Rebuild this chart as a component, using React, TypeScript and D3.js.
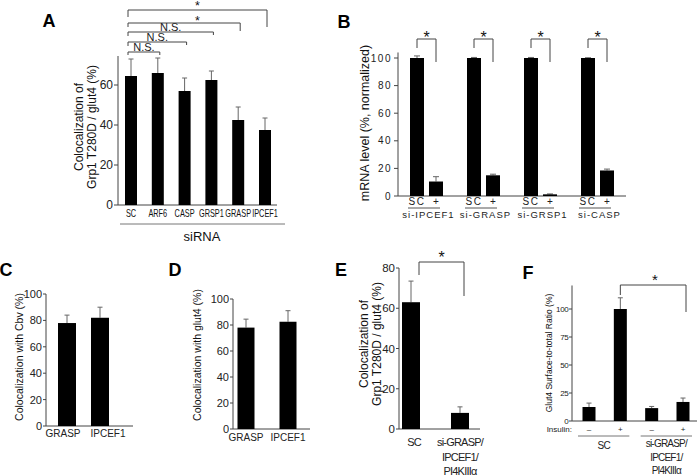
import React from "react";
import * as d3 from "d3";

const FONT = "'Liberation Sans', Arial, Helvetica, sans-serif";
const AX = "#444";
const ERR = "#666";

// ---------------- Panel A ----------------
const aCategories = ["SC", "ARF6", "CASP", "GRSP1", "GRASP", "IPCEF1"];
const aValues = [64.5, 66, 57, 62.5, 42.5, 37.5];
const aErrors = [8.5, 7.5, 6.5, 4.5, 6.5, 6];
const aTicks = [0, 20, 40, 60];
const aBracketTargets = ["IPCEF1", "GRASP", "GRSP1", "CASP", "ARF6"];
const aBracketLabels = ["*", "*", "N.S.", "N.S.", "N.S."];

// ---------------- Panel B ----------------
const bGenes = ["si-IPCEF1", "si-GRASP", "si-GRSP1", "si-CASP"];
const bConditions = ["SC", "+"];
const bScValues = [100, 100, 100, 100];
const bScErrors = [1.5, 0.4, 0.4, 0.2];
const bKdValues = [10.5, 15, 1.2, 18.5];
const bKdErrors = [3.5, 0.8, 0.3, 1];
const bTicks = [0, 20, 40, 60, 80, 100];

// ---------------- Panel C ----------------
const cCategories = ["GRASP", "IPCEF1"];
const cValues = [78, 82];
const cErrors = [6, 8];
const cTicks = [0, 20, 40, 60, 80, 100];

// ---------------- Panel D ----------------
const dCategories = ["GRASP", "IPCEF1"];
const dValues = [78, 82.5];
const dErrors = [6.5, 8.5];
const dTicks = [0, 20, 40, 60, 80, 100];

// ---------------- Panel E ----------------
const eCategories = ["SC", "si-GRASP"];
const eLabelLines = [["SC"], ["si-GRASP/", "IPCEF1/", "PI4KIIIα"]];
const eValues = [63, 8];
const eErrors = [10.5, 3];
const eTicks = [0, 20, 40, 60, 80];

// ---------------- Panel F ----------------
const fBars = ["SC-", "SC+", "KD-", "KD+"];
const fInsulin = ["–", "+", "–", "+"];
const fValues = [12.5, 100, 11.5, 17];
const fErrors = [3.5, 10, 1.5, 3.5];
const fTicks = [0, 25, 50, 75, 100];
const fGroupLines = [["SC"], ["si-GRASP/", "IPCEF1/", "PI4KIIIα"]];

type Scale = (v: number) => number;

function Bars({ xs, vals, errs, y, w, cap = 2.5 }: { xs: number[]; vals: number[]; errs: number[]; y: Scale; w: number; cap?: number }) {
  return (
    <g>
      {vals.map((v, i) => {
        const x = xs[i];
        const top = y(v + errs[i]);
        return (
          <g key={i}>
            <line x1={x} x2={x} y1={y(v)} y2={top} stroke={ERR} strokeWidth={1} />
            <line x1={x - cap} x2={x + cap} y1={top} y2={top} stroke={ERR} strokeWidth={1} />
            <rect x={x - w / 2} y={y(v)} width={w} height={y(0) - y(v)} fill="#000" />
          </g>
        );
      })}
    </g>
  );
}

function YAxis({ y, x, ticks, top, fs, tick = 4, gap = 1, ls = 0 }: { y: Scale; x: number; ticks: number[]; top: number; fs: number; tick?: number; gap?: number; ls?: number }) {
  return (
    <g>
      <line x1={x} x2={x} y1={y(0)} y2={top} stroke={AX} />
      {ticks.map((t) => (
        <g key={t}>
          <line x1={x - tick} x2={x} y1={y(t)} y2={y(t)} stroke={AX} />
          <text x={x - tick - gap} y={y(t)} textAnchor="end" dominantBaseline="central" fontSize={fs} letterSpacing={ls} fill="#222">
            {t}
          </text>
        </g>
      ))}
    </g>
  );
}

function RotTitle({ x, y, lines, fs, lh }: { x: number; y: number; lines: string[]; fs: number; lh: number }) {
  return (
    <g transform={`translate(${x},${y}) rotate(-90)`}>
      {lines.map((l, i) => (
        <text key={i} x={0} y={(i - (lines.length - 1) / 2) * lh} textAnchor="middle" dominantBaseline="central" fontSize={fs} fill="#111">
          {l}
        </text>
      ))}
    </g>
  );
}

function Bracket({ x1, x2, y, d1, d2 }: { x1: number; x2: number; y: number; d1: number; d2: number }) {
  return <path d={`M${x1},${y + d1}V${y}H${x2}V${y + d2}`} fill="none" stroke={AX} strokeWidth={1} />;
}

function Star({ x, cy, fs = 16 }: { x: number; cy: number; fs?: number }) {
  return (
    <text x={x} y={cy + fs * 0.57} textAnchor="middle" fontSize={fs} fill="#111">
      *
    </text>
  );
}

function PanelLetter({ x, y, t }: { x: number; y: number; t: string }) {
  return (
    <text x={x} y={y} textAnchor="middle" dominantBaseline="central" fontSize={18} fontWeight="bold" fill="#000">
      {t}
    </text>
  );
}

function PanelA() {
  const y = d3.scaleLinear().domain([0, 60]).range([205, 85]);
  const x = d3.scalePoint<string>().domain(aCategories).range([131, 265]);
  const xs = aCategories.map((c) => x(c)!);
  const left = x("SC")! - 3;
  const levels = [10, 23, 32, 42, 52];
  const drops = [[7, 17], [4, 8], [4, 3], [4, 3], [3, 3]];
  const starLift = [7, 5.5];
  const starMid = (left + x("IPCEF1")! + 2) / 2;
  return (
    <g>
      <PanelLetter x={49} y={21} t="A" />
      {aBracketTargets.map((c, i) => {
        const x2 = x(c)! + 2;
        const lab = aBracketLabels[i];
        return (
          <g key={i}>
            <Bracket x1={left} x2={x2} y={levels[i]} d1={drops[i][0]} d2={drops[i][1]} />
            {lab === "*" ? (
              <Star x={starMid} cy={levels[i] - starLift[i]} fs={12.5} />
            ) : (
              <text x={(left + x2) / 2} y={levels[i] - 1} textAnchor="middle" fontSize={11} fill="#222">
                {lab}
              </text>
            )}
          </g>
        );
      })}
      <YAxis y={y} x={118} ticks={aTicks} top={y(74.5)} fs={12} tick={4} />
      <line x1={118} x2={277} y1={y(0)} y2={y(0)} stroke={AX} />
      <Bars xs={xs} vals={aValues} errs={aErrors} y={y} w={12} />
      {aCategories.map((c) => (
        <text key={c} transform={`translate(${x(c)!},217) scale(0.7,1)`} textAnchor="middle" fontSize={10.5} fill="#111">
          {c}
        </text>
      ))}
      <line x1={120} x2={285} y1={224} y2={224} stroke="#777" />
      <text x={202} y={236} textAnchor="middle" dominantBaseline="central" fontSize={13} fill="#111">
        siRNA
      </text>
      <RotTitle x={85.5} y={127} lines={["Colocalization of", "Grp1 T280D / glut4 (%)"]} fs={12} lh={13} />
    </g>
  );
}

function PanelB() {
  const y = d3.scaleLinear().domain([0, 100]).range([196, 58]);
  const x0 = d3.scaleBand<string>().domain(bGenes).range([398, 626]).padding(0);
  const x1 = d3.scalePoint<string>().domain(bConditions).range([-9.5, 9.5]);
  const center = (g: string) => x0(g)! + x0.bandwidth() / 2;
  const scX = bGenes.map((g) => center(g) + x1("SC")!);
  const kdX = bGenes.map((g) => center(g) + x1("+")!);
  return (
    <g>
      <PanelLetter x={344} y={22} t="B" />
      <YAxis y={y} x={398} ticks={bTicks} top={y(104)} fs={10} tick={4} gap={2} ls={1.5} />
      <line x1={398} x2={626} y1={y(0)} y2={y(0)} stroke={AX} />
      <Bars xs={scX} vals={bScValues} errs={bScErrors} y={y} w={14} cap={3} />
      <Bars xs={kdX} vals={bKdValues} errs={bKdErrors} y={y} w={14} cap={3} />
      {bGenes.map((g, i) => (
        <g key={g}>
          <Bracket x1={scX[i]} x2={kdX[i]} y={39} d1={9} d2={23} />
          <Star x={(scX[i] + kdX[i]) / 2} cy={34} fs={16} />
          <text x={scX[i]} y={205} textAnchor="middle" fontSize={10} letterSpacing={1.5} fill="#222">
            {bConditions[0]}
          </text>
          <text x={kdX[i]} y={205} textAnchor="middle" fontSize={10} fill="#222">
            {bConditions[1]}
          </text>
          <line x1={scX[i] - 9} x2={kdX[i] + 4} y1={208} y2={208} stroke="#555" />
          <text x={center(g) + 2} y={218} textAnchor="middle" fontSize={9.5} letterSpacing={1} fill="#222">
            {g}
          </text>
        </g>
      ))}
      <RotTitle x={365} y={123} lines={["mRNA level (%, normalized)"]} fs={12.5} lh={13} />
    </g>
  );
}

function SmallPanel({ cats, vals, errs, ticks, letter, lx, axisX, xEnd, y0, y100, centers, labelShift, w, title, titleX, titleY, labelY }: any) {
  const y = d3.scaleLinear().domain([0, 100]).range([y0, y100]);
  const x = d3.scalePoint<string>().domain(cats).range(centers);
  const xs = cats.map((c: string) => x(c)!);
  return (
    <g>
      <PanelLetter x={lx} y={270} t={letter} />
      <YAxis y={y} x={axisX} ticks={ticks} top={y(100)} fs={11} tick={3} gap={1} />
      <line x1={axisX} x2={xEnd} y1={y(0)} y2={y(0)} stroke={AX} />
      <Bars xs={xs} vals={vals} errs={errs} y={y} w={w} />
      {cats.map((c: string, i: number) => (
        <text key={c} x={x(c)! + labelShift[i]} y={labelY} textAnchor="middle" fontSize={10} fill="#222">
          {c}
        </text>
      ))}
      <RotTitle x={titleX} y={titleY} lines={[title]} fs={10.5} lh={12} />
    </g>
  );
}

function PanelE() {
  const y = d3.scaleLinear().domain([0, 80]).range([429, 268]);
  const x = d3.scalePoint<string>().domain(eCategories).range([411, 460]);
  const xs = eCategories.map((c) => x(c)!);
  const bl = xs[0] + 8;
  const br = xs[1] + 4;
  return (
    <g>
      <PanelLetter x={341} y={270} t="E" />
      <YAxis y={y} x={399} ticks={eTicks} top={y(80)} fs={11.5} tick={3} gap={1} />
      <line x1={399} x2={480} y1={y(0)} y2={y(0)} stroke={AX} />
      <Bars xs={xs} vals={eValues} errs={eErrors} y={y} w={18} />
      <Bracket x1={bl} x2={br} y={262} d1={13} d2={34} />
      <Star x={(bl + br) / 2} cy={254} fs={16} />
      {eLabelLines.map((lines, i) =>
        lines.map((l, j) => (
          <text key={`${i}-${j}`} x={xs[i] + (i === 1 ? 0 : 3)} y={446 + j * 14.5} textAnchor="middle" fontSize={11} letterSpacing={-0.8} fill="#222">
            {l}
          </text>
        ))
      )}
      <RotTitle x={370} y={344} lines={["Colocalization of", "Grp1 T280D / glut4 (%)"]} fs={12} lh={13} />
    </g>
  );
}

function PanelF() {
  const y = d3.scaleLinear().domain([0, 100]).range([421, 309]);
  const x = d3.scalePoint<string>().domain(fBars).range([589, 683]);
  const xs = fBars.map((c) => x(c)!);
  const groups = [
    [xs[0], xs[1]],
    [xs[2], xs[3]],
  ];
  return (
    <g>
      <PanelLetter x={528} y={273} t="F" />
      <YAxis y={y} x={572} ticks={fTicks} top={y(121)} fs={8} tick={3} gap={0.5} ls={-0.3} />
      <line x1={572} x2={697} y1={y(0)} y2={y(0)} stroke={AX} />
      <Bars xs={xs} vals={fValues} errs={fErrors} y={y} w={13} cap={2.5} />
      <Bracket x1={xs[1]} x2={xs[3] + 3} y={285} d1={10} d2={27} />
      <Star x={655} cy={276} fs={15} />
      <text x={572} y={432} textAnchor="end" fontSize={8} fill="#222">
        Insulin:
      </text>
      {fInsulin.map((s, i) => (
        <text key={i} x={xs[i]} y={432} textAnchor="middle" fontSize={8} fill="#222">
          {s}
        </text>
      ))}
      {groups.map((g, i) => (
        <g key={i}>
          <line x1={g[0] - 11} x2={g[1] + 9} y1={436} y2={436} stroke="#777" />
          {fGroupLines[i].map((l, j) => (
            <text key={j} x={(g[0] + g[1]) / 2 - 1} y={(i === 0 ? 449 : 447) + j * 13.5} textAnchor="middle" fontSize={10} letterSpacing={-0.8} fill="#222">
              {l}
            </text>
          ))}
        </g>
      ))}
      <RotTitle x={549} y={353} lines={["Glut4 Surface-to-total Ratio (%)"]} fs={8.5} lh={10} />
    </g>
  );
}

export default function App() {
  return (
    <svg width={700} height={476} viewBox="0 0 700 476" style={{ position: "absolute", left: 0, top: 0, background: "#fff" }} fontFamily={FONT}>
      <rect width={700} height={476} fill="#fff" />
      <PanelA />
      <PanelB />
      <SmallPanel cats={cCategories} vals={cValues} errs={cErrors} ticks={cTicks} letter="C" lx={6} axisX={46} xEnd={133} y0={426} y100={294} centers={[67, 100]} labelShift={[-4, 8]} w={18} title="Colocalization with Cbv (%)" titleX={19} titleY={357} labelY={437} />
      <SmallPanel cats={dCategories} vals={dValues} errs={dErrors} ticks={dTicks} letter="D" lx={175} axisX={233} xEnd={310} y0={429} y100={299} centers={[246, 288]} labelShift={[0, 0]} w={17} title="Colocalization with glut4 (%)" titleX={197} titleY={355} labelY={441} />
      <PanelE />
      <PanelF />
    </svg>
  );
}
